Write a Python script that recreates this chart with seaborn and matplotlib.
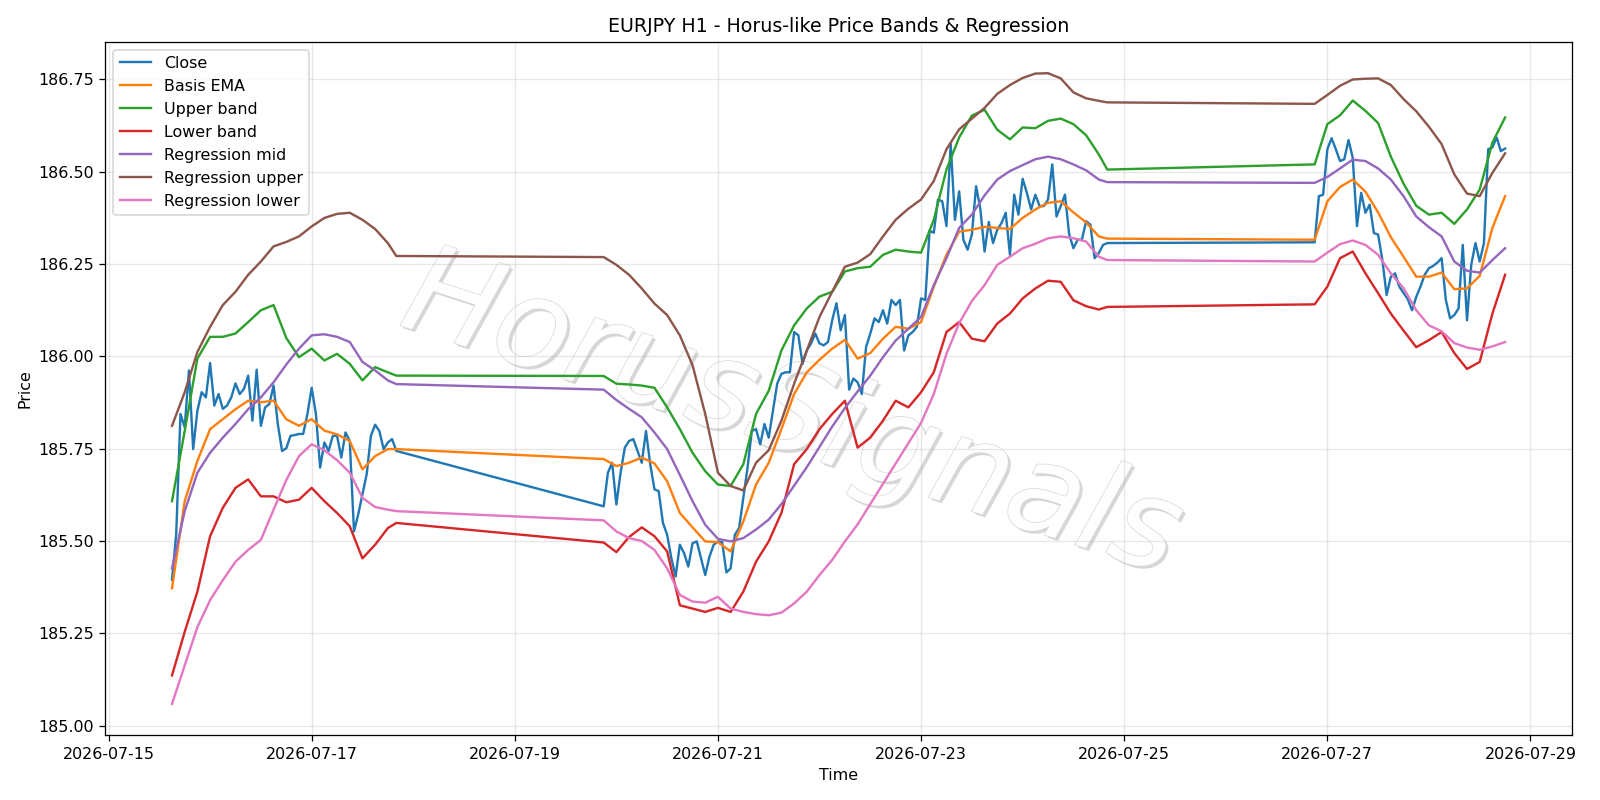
import numpy as np
import pandas as pd
import matplotlib
matplotlib.use("Agg")
import matplotlib.pyplot as plt
import matplotlib.dates as mdates
import matplotlib.patheffects as pe
from matplotlib.ticker import FormatStrFormatter
import seaborn as sns

# ---------------- data ----------------
START = "2026-07-15 00:00"

# hourly close, three trading blocks (hours counted from START)
close_hours = list(range(15, 69)) + list(range(117, 237)) + list(range(285, 331))
close = [
    185.395, 185.52, 185.844, 185.808, 185.962, 185.749, 185.853, 185.903, 185.889, 185.982,
    185.867, 185.898, 185.858, 185.867, 185.889, 185.927, 185.898, 185.912, 185.948, 185.826,
    185.964, 185.812, 185.862, 185.871, 185.921, 185.817, 185.744, 185.751, 185.785, 185.787,
    185.790, 185.790, 185.844, 185.915, 185.844, 185.699, 185.767, 185.744, 185.785, 185.785,
    185.726, 185.794, 185.771, 185.526, 185.572, 185.626, 185.681, 185.785, 185.815, 185.798,
    185.749, 185.767, 185.776, 185.744,
    185.594, 185.685, 185.712, 185.599, 185.685, 185.753, 185.771, 185.776, 185.744, 185.712,
    185.798, 185.708, 185.640, 185.635, 185.549, 185.517, 185.453, 185.404, 185.490, 185.467,
    185.431, 185.494, 185.499, 185.453, 185.408, 185.458, 185.490, 185.499, 185.497, 185.415,
    185.426, 185.517, 185.535, 185.617, 185.699, 185.798, 185.803, 185.762, 185.817, 185.780,
    185.853, 185.926, 185.953, 185.957, 185.957, 186.066, 186.057, 185.980, 186.016, 186.035,
    186.062, 186.035, 186.030, 186.039, 186.098, 186.144, 186.071, 186.112, 185.910, 185.940,
    185.930, 185.898, 186.025, 186.062, 186.103, 186.093, 186.125, 186.089, 186.153, 186.139,
    186.153, 186.016, 186.057, 186.066, 186.080, 186.157, 186.153, 186.340, 186.335, 186.425,
    186.420, 186.353, 186.575, 186.370, 186.447, 186.316, 186.289, 186.330, 186.461, 186.400,
    186.284, 186.364, 186.307, 186.343, 186.361, 186.389, 186.275, 186.438, 186.384, 186.481,
    186.443, 186.398, 186.438, 186.407, 186.407, 186.425, 186.520, 186.379, 186.407, 186.438,
    186.330, 186.293, 186.316, 186.316, 186.366, 186.357, 186.266, 186.280, 186.302, 186.307,
    186.309, 186.434, 186.438, 186.561, 186.591, 186.561, 186.529, 186.534, 186.586, 186.538,
    186.353, 186.443, 186.389, 186.411, 186.334, 186.330, 186.261, 186.166, 186.216, 186.225,
    186.189, 186.172, 186.155, 186.125, 186.161, 186.189, 186.221, 186.239, 186.245, 186.254,
    186.266, 186.153, 186.103, 186.112, 186.130, 186.302, 186.098, 186.248, 186.307, 186.257,
    186.307, 186.561, 186.566, 186.593, 186.556, 186.563,
]

# band / regression values read every third hour
band_hours = (list(range(15, 67, 3)) + [68]
              + list(range(117, 235, 3)) + [236]
              + list(range(285, 331, 3)))

basis_ema = [
    185.372, 185.608, 185.717, 185.803, 185.830, 185.857, 185.880, 185.876, 185.880, 185.830,
    185.812, 185.830, 185.799, 185.789, 185.771, 185.694, 185.730, 185.749, 185.749,
    185.722, 185.703, 185.712, 185.726, 185.710, 185.662, 185.576, 185.537, 185.499, 185.497,
    185.472, 185.553, 185.653, 185.712, 185.803, 185.898, 185.957, 185.991, 186.021, 186.045,
    185.994, 186.009, 186.048, 186.080, 186.075, 186.093, 186.189, 186.275, 186.338, 186.343,
    186.351, 186.348, 186.345, 186.375, 186.398, 186.416, 186.420, 186.390, 186.363, 186.325,
    186.319,
    186.316, 186.420, 186.459, 186.479, 186.446, 186.390, 186.323, 186.270, 186.216, 186.216,
    186.227, 186.182, 186.184, 186.218, 186.348, 186.434,
]

upper_band = [
    185.608, 185.798, 185.994, 186.053, 186.053, 186.062, 186.093, 186.125, 186.139, 186.050,
    185.998, 186.021, 185.989, 186.007, 185.980, 185.935, 185.971, 185.957, 185.948,
    185.947, 185.926, 185.924, 185.921, 185.915, 185.862, 185.803, 185.739, 185.689, 185.653,
    185.649, 185.708, 185.844, 185.907, 186.016, 186.084, 186.130, 186.162, 186.175, 186.230,
    186.239, 186.243, 186.275, 186.289, 186.284, 186.281, 186.370, 186.506, 186.593, 186.652,
    186.668, 186.614, 186.588, 186.620, 186.618, 186.638, 186.644, 186.629, 186.599, 186.547,
    186.506,
    186.520, 186.629, 186.653, 186.693, 186.665, 186.632, 186.541, 186.468, 186.408, 186.384,
    186.389, 186.359, 186.398, 186.452, 186.579, 186.647,
]

lower_band = [
    185.136, 185.254, 185.363, 185.513, 185.590, 185.644, 185.667, 185.621, 185.621, 185.605,
    185.612, 185.644, 185.608, 185.576, 185.540, 185.453, 185.490, 185.535, 185.549,
    185.496, 185.470, 185.511, 185.537, 185.513, 185.472, 185.326, 185.317, 185.308, 185.319,
    185.308, 185.363, 185.444, 185.499, 185.576, 185.708, 185.749, 185.803, 185.844, 185.880,
    185.753, 185.780, 185.826, 185.880, 185.862, 185.903, 185.957, 186.066, 186.093, 186.048,
    186.041, 186.089, 186.116, 186.157, 186.184, 186.205, 186.202, 186.152, 186.136, 186.127,
    186.134,
    186.141, 186.189, 186.266, 186.284, 186.225, 186.171, 186.116, 186.070, 186.025, 186.044,
    186.066, 186.009, 185.966, 185.985, 186.116, 186.221,
]

reg_mid = [
    185.426, 185.581, 185.685, 185.739, 185.780, 185.817, 185.857, 185.889, 185.930, 185.978,
    186.021, 186.057, 186.060, 186.053, 186.039, 185.985, 185.962, 185.935, 185.925,
    185.910, 185.882, 185.858, 185.835, 185.794, 185.749, 185.679, 185.608, 185.544, 185.506,
    185.499, 185.508, 185.531, 185.558, 185.600, 185.650, 185.700, 185.755, 185.810, 185.860,
    185.905, 185.948, 185.998, 186.043, 186.075, 186.107, 186.193, 186.266, 186.348, 186.384,
    186.436, 186.479, 186.502, 186.518, 186.534, 186.541, 186.534, 186.520, 186.504, 186.479,
    186.472,
    186.470, 186.486, 186.509, 186.533, 186.529, 186.509, 186.479, 186.434, 186.379, 186.350,
    186.325, 186.257, 186.232, 186.227, 186.261, 186.293,
]

reg_upper = [
    185.812, 185.903, 186.012, 186.080, 186.139, 186.175, 186.221, 186.257, 186.298, 186.310,
    186.325, 186.352, 186.375, 186.386, 186.389, 186.370, 186.345, 186.307, 186.272,
    186.269, 186.248, 186.221, 186.184, 186.143, 186.112, 186.057, 185.976, 185.844, 185.685,
    185.649, 185.637, 185.712, 185.746, 185.826, 185.926, 186.016, 186.107, 186.175, 186.243,
    186.254, 186.277, 186.325, 186.370, 186.400, 186.425, 186.475, 186.561, 186.615, 186.644,
    186.673, 186.711, 186.735, 186.754, 186.766, 186.767, 186.753, 186.715, 186.699, 186.692,
    186.688,
    186.684, 186.708, 186.733, 186.750, 186.752, 186.753, 186.735, 186.697, 186.664, 186.622,
    186.575, 186.493, 186.441, 186.434, 186.497, 186.550,
]

reg_lower = [
    185.059, 185.163, 185.267, 185.340, 185.394, 185.444, 185.476, 185.503, 185.585, 185.665,
    185.730, 185.762, 185.746, 185.719, 185.685, 185.617, 185.592, 185.585, 185.581,
    185.556, 185.526, 185.508, 185.500, 185.476, 185.426, 185.354, 185.336, 185.333, 185.349,
    185.317, 185.308, 185.302, 185.299, 185.306, 185.331, 185.363, 185.408, 185.449, 185.499,
    185.545, 185.600, 185.655, 185.710, 185.765, 185.820, 185.898, 186.007, 186.090, 186.150,
    186.193, 186.248, 186.270, 186.293, 186.305, 186.320, 186.325, 186.320, 186.311, 186.270,
    186.261,
    186.257, 186.281, 186.304, 186.314, 186.302, 186.275, 186.225, 186.185, 186.125, 186.084,
    186.068, 186.036, 186.024, 186.018, 186.027, 186.039,
]

series_names = ["Close", "Basis EMA", "Upper band", "Lower band",
                "Regression mid", "Regression upper", "Regression lower"]
series_colors = ["#1f77b4", "#ff7f0e", "#2ca02c", "#d62728",
                 "#9467bd", "#8c564b", "#e377c2"]

# ---------------- build frames ----------------
t0 = pd.Timestamp(START)
close_time = t0 + pd.to_timedelta(close_hours, unit="h")
band_time = t0 + pd.to_timedelta(band_hours, unit="h")

frames = [pd.DataFrame({"Time": close_time, "Price": close, "series": "Close"})]
for name, vals in zip(series_names[1:],
                      [basis_ema, upper_band, lower_band, reg_mid, reg_upper, reg_lower]):
    frames.append(pd.DataFrame({"Time": band_time, "Price": vals, "series": name}))

# ---------------- plot ----------------
DPI = 800 / 7
fig, ax = plt.subplots(figsize=(14, 7), dpi=DPI)

for name, color, df in zip(series_names, series_colors, frames):
    sns.lineplot(data=df, x="Time", y="Price", ax=ax, color=color,
                 linewidth=1.5, label=name, estimator=None, sort=True)

ax.set_title("EURJPY H1 - Horus-like Price Bands & Regression")
ax.set_xlabel("Time")
ax.set_ylabel("Price")
ax.grid(True, alpha=0.3)
ax.xaxis.set_major_locator(mdates.DayLocator(bymonthday=range(1, 32, 2)))
ax.xaxis.set_major_formatter(mdates.DateFormatter("%Y-%m-%d"))
ax.yaxis.set_major_formatter(FormatStrFormatter("%.2f"))
ax.legend(loc="upper left")

# watermark
ax.text(0.468, 0.46, "HorusSignals", transform=ax.transAxes,
        fontsize=78, rotation=-18, style="italic",
        color="white", alpha=0.95, ha="center", va="center", zorder=0.5,
        path_effects=[pe.withSimplePatchShadow(offset=(1.8, -1.8),
                                               shadow_rgbFace="#a8a8a8", alpha=0.45),
                      pe.withStroke(linewidth=0.9, foreground="#d6d6d6")])

fig.tight_layout()
fig.savefig("out.png", dpi=DPI)
